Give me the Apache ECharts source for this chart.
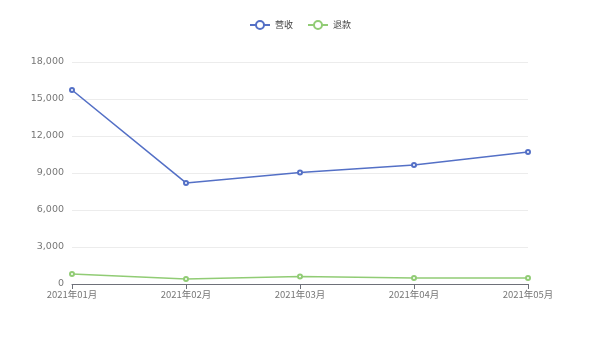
<!DOCTYPE html>
<html><head><meta charset="utf-8">
<script src="https://cdn.jsdelivr.net/npm/echarts@6/dist/echarts.min.js"></script>
<style>html,body{margin:0;padding:0;background:#fff}#c{width:600px;height:338px}</style>
</head><body><div id="c"></div>
<script>
var categories = ['2021年01月','2021年02月','2021年03月','2021年04月','2021年05月'];
var seriesNames = ['营收','退款'];
var revenue = [15730, 8190, 9040, 9650, 10700];
var refund = [810, 410, 610, 490, 490];
var chart = echarts.init(document.getElementById('c'));
chart.setOption({
  animation:false,
  color:['#5470c6','#91cc75'],
  legend:{top:15,left:'center',itemWidth:20,itemHeight:10,itemGap:14,textStyle:{fontSize:9,color:'#444',fontFamily:'Noto Sans CJK SC'},data:seriesNames},
  grid:{left:72,right:72,top:62,bottom:54},
  xAxis:{type:'category',boundaryGap:false,data:categories,
    axisLine:{lineStyle:{color:'#6e7079'}},axisTick:{show:true},
    axisLabel:{fontSize:9.5,color:'#777',margin:6,fontFamily:'Noto Sans CJK SC'}},
  yAxis:{type:'value',min:0,max:18000,interval:3000,
    axisLabel:{fontSize:9.5,color:'#777',margin:8,fontFamily:'DejaVu Sans'},
    splitLine:{lineStyle:{color:'#ececec'}}},
  series:[
    {name:seriesNames[0],type:'line',data:revenue,symbol:'emptyCircle',symbolSize:4,lineStyle:{width:1.6}},
    {name:seriesNames[1],type:'line',data:refund,symbol:'emptyCircle',symbolSize:4,lineStyle:{width:1.6}}
  ]
});
</script></body></html>
